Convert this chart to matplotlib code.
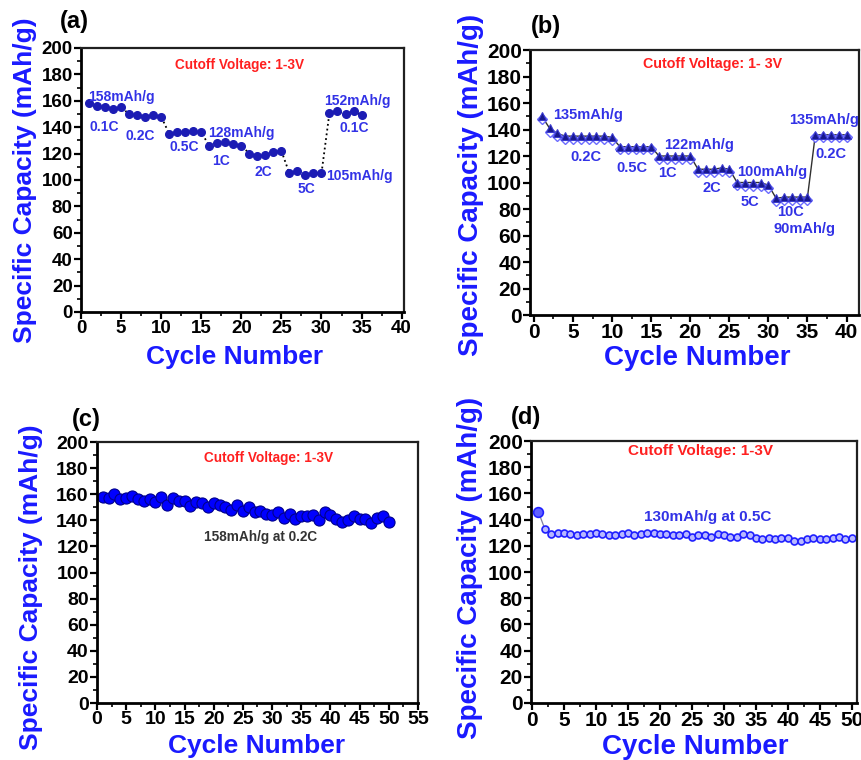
import numpy as np
import matplotlib
matplotlib.use("Agg")
import matplotlib.pyplot as plt
from matplotlib.ticker import MultipleLocator

plt.rcParams['font.family'] = ['Liberation Sans', 'DejaVu Sans']
plt.rcParams['font.weight'] = 'bold'

# (a) rate capability, 1-35 cycles
cyc_a = np.arange(1, 36)
cap_a = [158, 156, 155, 154, 155,
         150, 149, 148, 149, 148,
         135, 136, 136, 137, 136,
         126, 128, 129, 127, 126,
         120, 118, 119, 121, 122,
         105, 107, 104, 105, 105,
         151, 152, 150, 152, 149]
labels_a = ["158mAh/g", "0.1C", "0.2C", "0.5C", "128mAh/g", "1C", "2C",
            "5C", "105mAh/g", "152mAh/g", "0.1C"]
lab_pos_a = [(0.9, 163), (1.1, 140), (5.6, 133), (11.1, 125), (15.8, 135.5),
             (16.4, 114.6), (21.6, 106), (27, 93), (30.6, 103), (30.3, 160),
             (32.2, 139.6)]

# (b) rate capability, 1-40 cycles (charge / discharge)
cyc_b = np.arange(1, 41)
charge_b = [150, 141, 137, 135, 135, 135, 135, 135, 135, 134,
            127, 127, 127, 127, 127, 120, 120, 120, 120, 120,
            110, 110, 110, 111, 110, 100, 100, 100, 100, 98,
            88, 89, 89, 89, 89, 136, 136, 136, 136, 136]
disch_b = [148, 138, 135, 133, 133, 133, 133, 133, 133, 132,
           125, 125, 125, 125, 125, 118, 118, 118, 118, 118,
           108, 108, 108, 109, 108, 98, 97, 97, 97, 96,
           86, 87, 87, 87, 87, 134, 134, 134, 134, 134]
labels_b = ["135mAh/g", "0.2C", "0.5C", "1C", "122mAh/g", "2C", "100mAh/g",
            "5C", "10C", "90mAh/g", "135mAh/g", "0.2C"]
lab_pos_b = [(2.4, 151), (4.6, 119.5), (10.6, 111), (15.9, 107), (16.7, 128),
             (21.6, 96), (26, 107.7), (26.5, 85.5), (31.1, 77.5), (30.7, 64.7),
             (32.6, 147), (36, 121.5)]

# (c) cycling at 0.2C
cyc_c = np.arange(1, 51)
cap_c = [158, 157, 160, 156, 157, 159, 156, 155, 156, 154,
         158, 152, 157, 155, 155, 151, 154, 153, 150, 153,
         152, 150, 148, 152, 147, 150, 146, 147, 145, 144,
         146, 142, 145, 141, 143, 143, 144, 140, 146, 144,
         141, 139, 140, 143, 141, 141, 138, 142, 143, 139]

# (d) cycling at 0.5C
cyc_d = np.arange(1, 51)
cap_d = [146, 133, 129, 130, 130, 129, 128, 129, 129, 130,
         129, 128, 128, 129, 130, 128, 129, 130, 130, 129,
         129, 128, 128, 129, 127, 128, 128, 127, 129, 128,
         127, 127, 129, 128, 126, 125, 126, 125, 126, 126,
         124, 124, 125, 126, 125, 125, 126, 127, 125, 126]

BLUE = '#1a1aff'
LBLUE = '#3232e6'


def style_axes(ax, xlim, xmax_tick, tick_size, ylab_x, ylab_y, xlab_x, xlab_y, lab_size):
    ax.set_xlim(*xlim)
    ax.set_ylim(0, 200)
    ax.xaxis.set_major_locator(MultipleLocator(5))
    ax.xaxis.set_minor_locator(MultipleLocator(2.5))
    ax.yaxis.set_major_locator(MultipleLocator(20))
    ax.yaxis.set_minor_locator(MultipleLocator(10))
    ax.set_xticks(np.arange(0, xmax_tick + 1, 5))
    ax.tick_params(which='major', direction='out', length=5, width=1.6,
                   labelsize=tick_size, pad=1, top=False, right=False)
    ax.tick_params(which='minor', direction='out', length=3, width=1.2,
                   top=False, right=False)
    for t in ax.get_xticklabels() + ax.get_yticklabels():
        t.set_fontweight('bold')
    for s in ['left', 'bottom']:
        ax.spines[s].set_linewidth(2)
    for s in ['top', 'right']:
        ax.spines[s].set_linewidth(1.6)
        ax.spines[s].set_color('#202020')
    ax.set_ylabel("Specific Capacity (mAh/g)", color=BLUE, fontsize=lab_size,
                  fontweight='bold')
    ax.set_xlabel("Cycle Number", color=BLUE, fontsize=lab_size, fontweight='bold')
    ax.yaxis.set_label_coords(ylab_x, ylab_y)
    ax.xaxis.set_label_coords(xlab_x, xlab_y)


fig = plt.figure(figsize=(8.62, 7.60), dpi=100)

# ---- (a)
ax = fig.add_axes([0.094, 0.5895, 0.3747, 0.3474])
ax.plot(cyc_a, cap_a, ':', color='black', lw=1.3, zorder=1)
ax.plot(cyc_a, cap_a, 'o', color='#1c1cb4', ms=5.5, ls='none', zorder=2)
for txt, (x, y) in zip(labels_a, lab_pos_a):
    ax.text(x, y, txt, color=LBLUE, fontsize=10, fontweight='bold',
            ha='left', va='center')
ax.text(19.8, 187, "Cutoff Voltage: 1-3V", color='#ff2020', fontsize=9.8,
        fontweight='bold', ha='center', va='center')
style_axes(ax, (0, 40.3), 40, 13.5, -0.136, 0.5, 0.475, -0.125, 19)
fig.text(0.0696, 0.9714, "(a)", fontsize=17, fontweight='bold', va='center')

# ---- (b)
ax = fig.add_axes([0.6149, 0.5855, 0.3817, 0.3487])
ax.plot(cyc_b, disch_b, 'D', mfc='white', mec='#6b6bff', mew=1.0, ms=5.5,
        ls='none', zorder=2)
ax.plot(cyc_b, charge_b, '-', color='#303030', lw=1.0, zorder=1)
ax.plot(cyc_b, charge_b, '^', color='#18188c', mec='#3a3ad0', mew=0.8, ms=5.8,
        ls='none', zorder=3)
for txt, (x, y) in zip(labels_b, lab_pos_b):
    ax.text(x, y, txt, color=LBLUE, fontsize=10.5, fontweight='bold',
            ha='left', va='center')
ax.text(22.9, 189.4, "Cutoff Voltage: 1- 3V", color='#ff2020', fontsize=10.3,
        fontweight='bold', ha='center', va='center')
style_axes(ax, (-0.5, 41.6), 40, 15, -0.14, 0.49, 0.507, -0.115, 20)
fig.text(0.616, 0.9645, "(b)", fontsize=17, fontweight='bold', va='center')

# ---- (c)
ax = fig.add_axes([0.1125, 0.075, 0.3724, 0.3434])
ax.plot(cyc_c, cap_c, '-', color='#0000cc', lw=1.0, zorder=1)
ax.plot(cyc_c, cap_c, 'o', mfc='#0000ff', mec='#00008c', mew=0.8, ms=8,
        ls='none', zorder=2)
ax.text(29.4, 188, "Cutoff Voltage: 1-3V", color='#ff2020', fontsize=9.8,
        fontweight='bold', ha='center', va='center')
ax.text(28, 127, "158mAh/g at 0.2C", color='#333333', fontsize=9.8,
        fontweight='bold', ha='center', va='center')
style_axes(ax, (0, 55), 55, 14, -0.167, 0.443, 0.497, -0.118, 19)
fig.text(0.0835, 0.4474, "(c)", fontsize=17, fontweight='bold', va='center')

# ---- (d)
ax = fig.add_axes([0.616, 0.075, 0.3782, 0.3447])
ax.plot(cyc_d, cap_d, '-', color='#8080a0', lw=0.9, zorder=1)
ax.plot(cyc_d, cap_d, 'o', mfc='#b8b8ff', mec='#2020ff', mew=1.2, ms=5,
        ls='none', zorder=2)
ax.plot(cyc_d[:1], cap_d[:1], 'o', mfc='#6060ff', mec='#2020ff', mew=1.2, ms=7,
        ls='none', zorder=3)
ax.text(26.3, 192.4, "Cutoff Voltage: 1-3V", color='#ff2020', fontsize=11,
        fontweight='bold', ha='center', va='center')
ax.text(27.5, 142.3, "130mAh/g at 0.5C", color=LBLUE, fontsize=11,
        fontweight='bold', ha='center', va='center')
style_axes(ax, (-0.15, 50.8), 50, 15, -0.148, 0.517, 0.503, -0.117, 20)
fig.text(0.5928, 0.4513, "(d)", fontsize=17, fontweight='bold', va='center')

fig.savefig("out.png", dpi=100)
